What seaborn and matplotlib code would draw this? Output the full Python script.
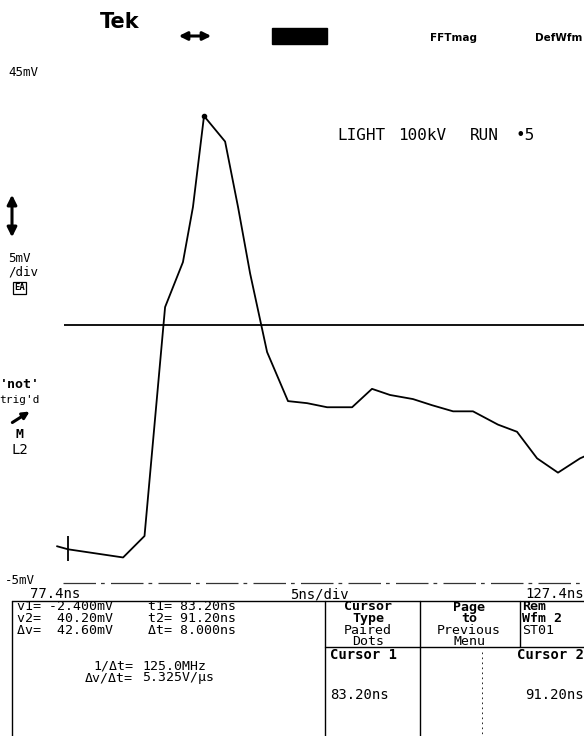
import matplotlib
matplotlib.use("Agg")
import matplotlib.pyplot as plt
from matplotlib.patches import Rectangle
import seaborn as sns

# waveform (time in ns, amplitude in mV)
time_ns = [82.55, 83.2, 86.44, 87.7, 88.91, 89.96, 90.55, 91.2, 92.44, 93.2,
           93.91, 94.91, 96.14, 97.26, 98.44, 99.91, 101.08, 102.14, 103.49,
           104.61, 105.85, 107.02, 108.49, 109.61, 110.79, 112.02, 113.32, 114.4]
volt_mv = [-1.4, -1.7, -2.5, -0.4, 22.0, 26.4, 31.8, 40.7, 38.2, 31.8,
           25.3, 17.6, 12.8, 12.6, 12.2, 12.2, 14.0, 13.4, 13.0,
           12.4, 11.8, 11.8, 10.5, 9.8, 7.2, 5.8, 7.2, 8.0]

trigger_mv = 20.2
bottom_mv = -5
t1_ns, t2_ns = 83.2, 91.2

# readout panel
readout_left = ["v1= -2.400mV", "v2=  40.20mV", "Δv=  42.60mV"]
readout_mid = ["t1= 83.20ns", "t2= 91.20ns", "Δt= 8.000ns"]
menu_cursor = ["Cursor", "Type", "Paired", "Dots"]
menu_page = ["Page", "to", "Previous", "Menu"]
menu_rem = ["Rem", "Wfm 2", "ST01"]
title_words = ["LIGHT", "100kV", "RUN", "•5"]

sns.set_style("white")
plt.rcParams["font.family"] = ["DejaVu Sans Mono", "DejaVu Sans"]
plt.rcParams["text.color"] = "black"

W, H = 584, 736
fig = plt.figure(figsize=(W / 100, H / 100), dpi=100)

# main waveform axes, mapped so the screen fits the cropped scan
ax = fig.add_axes([0, 0, 1, 1])
ax.set_xlim(79.2, 113.55)
ax.set_ylim(-19.97, 52.05)
ax.axis("off")

sns.lineplot(x=time_ns, y=volt_mv, ax=ax, color="black", linewidth=1.3, sort=False)
ax.hlines(trigger_mv, 82.96, 113.55, color="black", linewidth=1.3)
ax.hlines(bottom_mv, 82.9, 113.55, color="#333333", linewidth=0.9,
          linestyles=(0, (26, 4, 3, 5)))
ax.plot([t2_ns], [max(volt_mv)], "o", color="black", ms=3)
ax.vlines(t1_ns, -2.8, -0.4, color="black", linewidth=1.3)

# overlay in pixel units for screen chrome
ov = fig.add_axes([0, 0, 1, 1], facecolor="none")
ov.set_xlim(0, W)
ov.set_ylim(H, 0)
ov.axis("off")

def txt(x, y, s, size=9, weight="normal", ha="left", **kw):
    ov.text(x, y, s, fontsize=size, fontweight=weight, ha=ha, va="center",
            color="black", **kw)

# top bar
txt(100, 22, "Tek", size=15, weight="bold", family="DejaVu Sans")
ov.annotate("", xy=(176, 36), xytext=(214, 36),
            arrowprops=dict(arrowstyle="<|-|>", lw=2.2, color="black", mutation_scale=12))
ov.add_patch(Rectangle((272, 28), 55, 16, color="black"))
txt(430, 38, "FFTmag", size=7.5, weight="bold", family="DejaVu Sans")
txt(582, 38, "DefWfm", size=7.5, weight="bold", family="DejaVu Sans", ha="right")
txt(8, 72, "45mV", size=9)

# left side labels
ov.annotate("", xy=(12, 192), xytext=(12, 240),
            arrowprops=dict(arrowstyle="<|-|>", lw=2.2, color="black", mutation_scale=14))
txt(8, 258, "5mV", size=9)
txt(8, 272, "/div", size=9)
txt(14, 288, "EA", size=6.5, weight="bold",
    bbox=dict(boxstyle="square,pad=0.15", fc="white", ec="black", lw=0.9))
txt(20, 385, "'not'", size=9.5, weight="bold", ha="center")
txt(20, 400, "trig'd", size=8, ha="center")
ov.annotate("", xy=(32, 410), xytext=(10, 424),
            arrowprops=dict(arrowstyle="-|>", lw=2.2, color="black", mutation_scale=10))
txt(20, 434, "M", size=9.5, weight="bold", ha="center")
txt(20, 450, "L2", size=10, ha="center")

for x, w in zip([337, 398, 470, 516], title_words):
    txt(x, 136, w, size=11.5)

# time base line
txt(5, 581, "-5mV", size=9)
txt(30, 594, "77.4ns", size=10)
txt(290, 594, "5ns/div", size=10)
txt(584, 594, "127.4ns", size=10, ha="right")

# readout box
lw = 1.0
ov.plot([12, W], [601, 601], color="black", lw=lw)
ov.plot([12, 12], [601, H], color="black", lw=lw)
ov.plot([325, 325], [601, H], color="black", lw=lw)
ov.plot([420, 420], [601, H], color="black", lw=lw)
ov.plot([520, 520], [601, 647], color="black", lw=lw)
ov.plot([325, W], [647, 647], color="black", lw=lw)
ov.plot([482, 482], [652, H], color="black", lw=0.6, ls=(0, (2, 4)))

for i, (a, b) in enumerate(zip(readout_left, readout_mid)):
    y = 607 + 12 * i
    txt(17, y, a, size=9.5)
    txt(148, y, b, size=9.5)
txt(133, 666, "1/Δt=", size=9.5, ha="right")
txt(142, 666, "125.0MHz", size=9.5)
txt(133, 678, "Δv/Δt=", size=9.5, ha="right")
txt(142, 678, "5.325V/μs", size=9.5)

for i, s in enumerate(menu_cursor):
    txt(368, 607 + 11.6 * i, s, size=9.5, weight="bold" if i < 2 else "normal", ha="center")
for i, s in enumerate(menu_page):
    txt(469, 607 + 11.6 * i, s, size=9.5, weight="bold" if i < 2 else "normal", ha="center")
for i, s in enumerate(menu_rem):
    txt(522, 607 + 11.6 * i, s, size=9.5, weight="bold" if i < 2 else "normal")

txt(330, 655, "Cursor 1", size=10, weight="bold")
txt(584, 655, "Cursor 2", size=10, weight="bold", ha="right")
txt(330, 695, "83.20ns", size=10)
txt(584, 695, "91.20ns", size=10, ha="right")

fig.savefig("out.png", dpi=100, facecolor="white")
